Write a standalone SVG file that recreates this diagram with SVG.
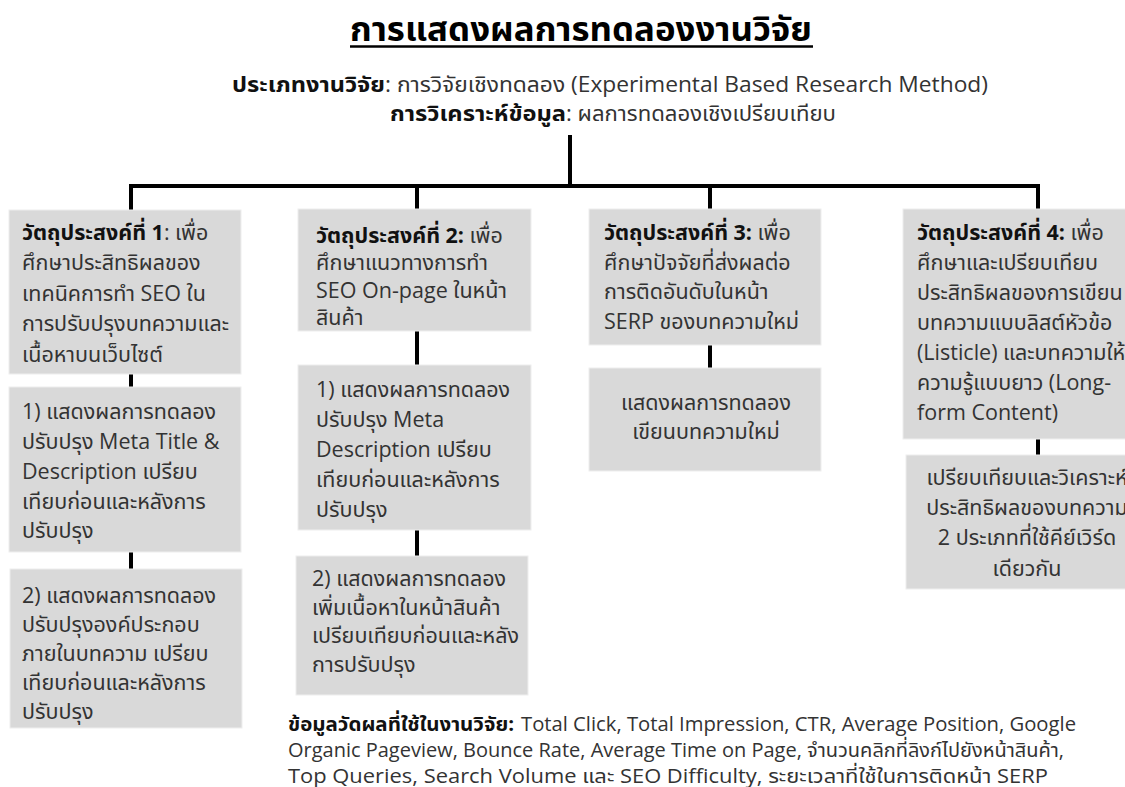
<svg xmlns="http://www.w3.org/2000/svg" width="1125" height="787" viewBox="0 0 1125 787">
  <style>
    text { font-family: "Open Sans", "Noto Sans Thai", "Noto Sans", "DejaVu Sans", sans-serif; fill: #333333; }
    .title { font-size: 33px; font-weight: 700; fill: #000000; }
    .head { font-size: 22px; }
    .box { fill: #d9d9d9; stroke: #eeeeee; stroke-width: 1; }
    .t { font-size: 21.5px; }
    .b { font-weight: 700; fill: #111111; }
    .foot { font-size: 20px; }
    .wire { stroke: #000000; stroke-width: 4; fill: none; }
    .c { text-anchor: middle; }
  </style>
  <rect width="1125" height="787" fill="#ffffff"/>

  <!-- heading -->
  <g id="heading">
    <text class="title" x="350" y="41" textLength="462" lengthAdjust="spacingAndGlyphs">การแสดงผลการทดลองงานวิจัย</text>
    <line x1="350" y1="46.5" x2="813" y2="46.5" stroke="#000000" stroke-width="2.5"/>
    <text class="head b" x="232" y="92" textLength="153" lengthAdjust="spacingAndGlyphs">ประเภทงานวิจัย</text>
    <text class="head" x="385" y="92" textLength="603" lengthAdjust="spacingAndGlyphs">: การวิจัยเชิงทดลอง (Experimental Based Research Method)</text>
    <text class="head b" x="390" y="121" textLength="176" lengthAdjust="spacingAndGlyphs">การวิเคราะห์ข้อมูล</text>
    <text class="head" x="566" y="121" textLength="270" lengthAdjust="spacingAndGlyphs">: ผลการทดลองเชิงเปรียบเทียบ</text>
  </g>

  <!-- connectors -->
  <g id="connectors" class="wire">
    <line x1="570" y1="135" x2="570" y2="186"/>
    <line x1="129" y1="186" x2="1040" y2="186"/>
    <line x1="131" y1="186" x2="131" y2="210"/>
    <line x1="417" y1="186" x2="417" y2="209"/>
    <line x1="710" y1="186" x2="710" y2="209"/>
    <line x1="1038" y1="186" x2="1038" y2="209"/>
    <line x1="131" y1="374" x2="131" y2="387"/>
    <line x1="131" y1="552" x2="131" y2="569"/>
    <line x1="417" y1="331" x2="417" y2="365"/>
    <line x1="417" y1="530" x2="417" y2="556"/>
    <line x1="710" y1="345" x2="710" y2="368"/>
    <line x1="1038" y1="439" x2="1038" y2="455"/>
  </g>

  <!-- objective 1 -->
  <g id="obj1">
    <rect class="box" x="9" y="210" width="232" height="164"/>
    <text class="t" x="22" y="240"><tspan class="b">วัตถุประสงค์ที่ 1</tspan>: เพื่อ</text>
    <text class="t" x="22" y="270">ศึกษาประสิทธิผลของ</text>
    <text class="t" x="22" y="301">เทคนิคการทำ SEO ใน</text>
    <text class="t" x="22" y="331">การปรับปรุงบทความและ</text>
    <text class="t" x="22" y="362">เนื้อหาบนเว็บไซต์</text>
  </g>
  <g id="obj1-exp1">
    <rect class="box" x="9" y="387" width="232" height="165"/>
    <text class="t" x="22" y="419">1) แสดงผลการทดลอง</text>
    <text class="t" x="22" y="449">ปรับปรุง Meta Title &amp;</text>
    <text class="t" x="22" y="479">Description เปรียบ</text>
    <text class="t" x="22" y="509">เทียบก่อนและหลังการ</text>
    <text class="t" x="22" y="538">ปรับปรุง</text>
  </g>
  <g id="obj1-exp2">
    <rect class="box" x="10" y="569" width="232" height="159"/>
    <text class="t" x="22" y="603">2) แสดงผลการทดลอง</text>
    <text class="t" x="22" y="632">ปรับปรุงองค์ประกอบ</text>
    <text class="t" x="22" y="661">ภายในบทความ เปรียบ</text>
    <text class="t" x="22" y="690">เทียบก่อนและหลังการ</text>
    <text class="t" x="22" y="719">ปรับปรุง</text>
  </g>

  <!-- objective 2 -->
  <g id="obj2">
    <rect class="box" x="298" y="209" width="233" height="122"/>
    <text class="t" x="316" y="243"><tspan class="b">วัตถุประสงค์ที่ 2:</tspan> เพื่อ</text>
    <text class="t" x="316" y="270">ศึกษาแนวทางการทำ</text>
    <text class="t" x="316" y="298">SEO On-page ในหน้า</text>
    <text class="t" x="316" y="325">สินค้า</text>
  </g>
  <g id="obj2-exp1">
    <rect class="box" x="298" y="365" width="233" height="165"/>
    <text class="t" x="316" y="397">1) แสดงผลการทดลอง</text>
    <text class="t" x="316" y="427">ปรับปรุง Meta</text>
    <text class="t" x="316" y="457">Description เปรียบ</text>
    <text class="t" x="316" y="487">เทียบก่อนและหลังการ</text>
    <text class="t" x="316" y="517">ปรับปรุง</text>
  </g>
  <g id="obj2-exp2">
    <rect class="box" x="296" y="556" width="232" height="139"/>
    <text class="t" x="312" y="586">2) แสดงผลการทดลอง</text>
    <text class="t" x="312" y="615">เพิ่มเนื้อหาในหน้าสินค้า</text>
    <text class="t" x="312" y="643">เปรียบเทียบก่อนและหลัง</text>
    <text class="t" x="312" y="672">การปรับปรุง</text>
  </g>

  <!-- objective 3 -->
  <g id="obj3">
    <rect class="box" x="589" y="209" width="232" height="136"/>
    <text class="t" x="604" y="240"><tspan class="b">วัตถุประสงค์ที่ 3:</tspan> เพื่อ</text>
    <text class="t" x="604" y="270">ศึกษาปัจจัยที่ส่งผลต่อ</text>
    <text class="t" x="604" y="299">การติดอันดับในหน้า</text>
    <text class="t" x="604" y="329">SERP ของบทความใหม่</text>
  </g>
  <g id="obj3-exp1">
    <rect class="box" x="589" y="368" width="232" height="103"/>
    <text class="t c" x="706" y="410">แสดงผลการทดลอง</text>
    <text class="t c" x="706" y="439">เขียนบทความใหม่</text>
  </g>

  <!-- objective 4: box runs past the right edge of the canvas -->
  <g id="obj4">
    <rect class="box" x="903" y="209" width="240" height="230"/>
    <text class="t" x="917" y="240"><tspan class="b">วัตถุประสงค์ที่ 4:</tspan> เพื่อ</text>
    <text class="t" x="917" y="270">ศึกษาและเปรียบเทียบ</text>
    <text class="t" x="917" y="300">ประสิทธิผลของการเขียน</text>
    <text class="t" x="917" y="330">บทความแบบลิสต์หัวข้อ</text>
    <text class="t" x="917" y="360">(Listicle) และบทความให้</text>
    <text class="t" x="917" y="390">ความรู้แบบยาว (Long-</text>
    <text class="t" x="917" y="420">form Content)</text>
  </g>
  <g id="obj4-exp1">
    <rect class="box" x="906" y="455" width="240" height="134"/>
    <text class="t c" x="1027" y="485">เปรียบเทียบและวิเคราะห์</text>
    <text class="t c" x="1027" y="515">ประสิทธิผลของบทความ</text>
    <text class="t c" x="1027" y="545">2 ประเภทที่ใช้คีย์เวิร์ด</text>
    <text class="t c" x="1027" y="576">เดียวกัน</text>
  </g>

  <!-- measurement data -->
  <g id="metrics">
    <text class="foot b" x="288" y="731" textLength="226" lengthAdjust="spacingAndGlyphs">ข้อมูลวัดผลที่ใช้ในงานวิจัย:</text>
    <text class="foot" x="521" y="731" textLength="555" lengthAdjust="spacingAndGlyphs">Total Click, Total Impression, CTR, Average Position, Google</text>
    <text class="foot" x="288" y="757" textLength="776" lengthAdjust="spacingAndGlyphs">Organic Pageview, Bounce Rate, Average Time on Page, จำนวนคลิกที่ลิงก์ไปยังหน้าสินค้า,</text>
    <text class="foot" x="288" y="783" textLength="760" lengthAdjust="spacingAndGlyphs">Top Queries, Search Volume และ SEO Difficulty, ระยะเวลาที่ใช้ในการติดหน้า SERP</text>
  </g>
</svg>
